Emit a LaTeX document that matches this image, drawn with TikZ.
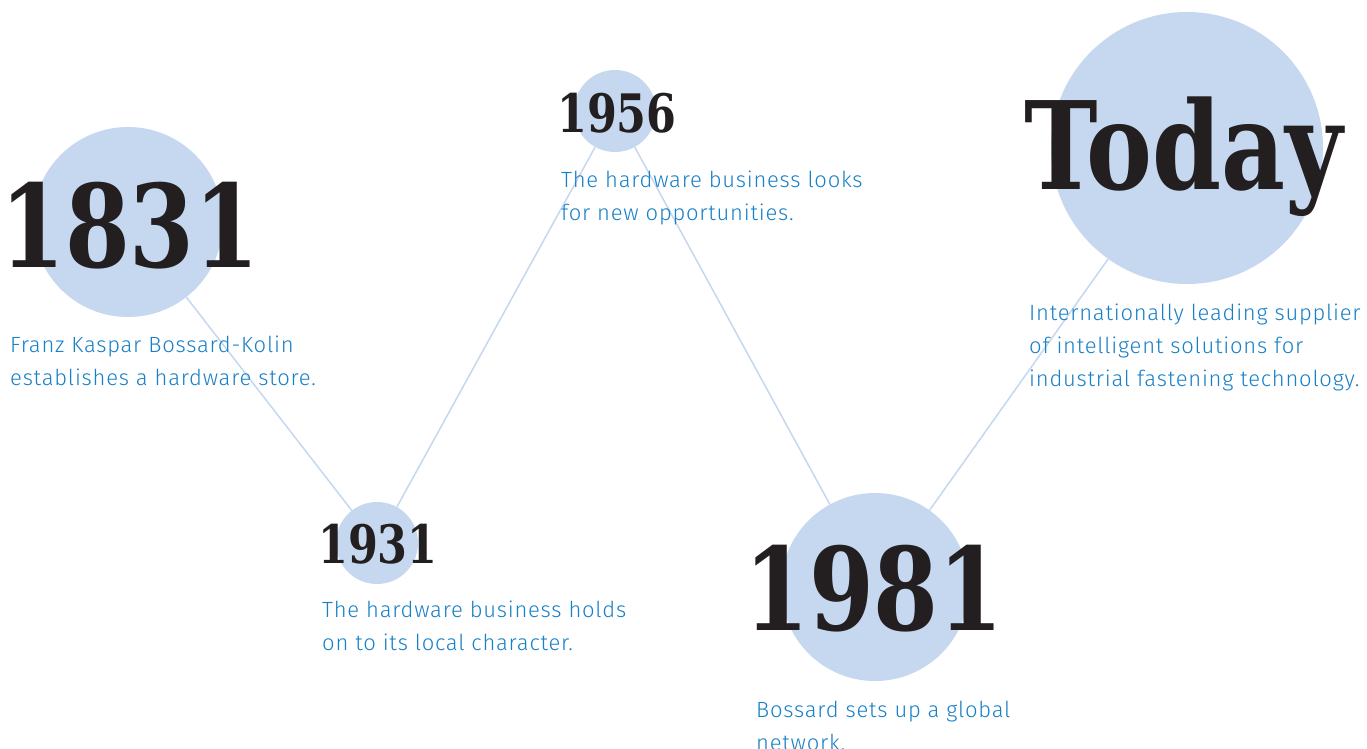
\documentclass[tikz,border=0pt]{standalone}
\usepackage{fontspec}
\newfontfamily\yearfont{DejaVu Serif}[FakeStretch=0.81]
\newfontfamily\descfont{Fira Sans Light}[LetterSpace=3.5]
\definecolor{dotblue}{RGB}{197,216,240}
\definecolor{textblue}{RGB}{24,128,198}
\definecolor{yearblack}{RGB}{35,31,32}
\tikzstyle{dot}=[circle, fill=dotblue, inner sep=0pt]
\tikzstyle{link}=[draw=dotblue, line width=1.5pt]
\tikzstyle{bigyear}=[anchor=base west, inner sep=0pt, text=yearblack, font=\yearfont\bfseries\fontsize{115}{115}\selectfont]
\tikzstyle{smallyear}=[anchor=base west, inner sep=0pt, text=yearblack, font=\yearfont\bfseries\fontsize{53}{53}\selectfont]
\tikzstyle{desc}=[anchor=base west, inner sep=0pt, align=left, text=textblue, font=\descfont\fontsize{22}{33}\selectfont]

\begin{document}
\begin{tikzpicture}[x=1pt, y=-1pt]
    \useasboundingbox[fill=white] (0,0) rectangle (1367,749);
    % circles
    \node[dot, minimum size=190] (c1831) at (128,222) {};
    \node[dot, minimum size=82] (c1931) at (377,543) {};
    \node[dot, minimum size=82] (c1956) at (615,111) {};
    \node[dot, minimum size=188] (c1981) at (875,587) {};
    \node[dot, minimum size=272] (cToday) at (1187,148) {};
    % links
    \draw[link] (c1831) -- (c1931);
    \draw[link] (c1931) -- (c1956);
    \draw[link] (c1956) -- (c1981);
    \draw[link] (c1981) -- (cToday);
    % years
    \node[bigyear] (y1831) at (0,267) {1831};
    \node[smallyear] (y1931) at (318,563) {1931};
    \node[smallyear] (y1956) at (557,132) {1956};
    \node[bigyear] (y1981) at (744,630) {1981};
    \node[bigyear, font=\yearfont\bfseries\fontsize{122}{122}\selectfont] (yToday) at (1024,189) {Today};
    % texts (base = last line)
    \node[desc] (d1831) at (10,385) {Franz Kaspar Bossard-Kolin\\establishes a hardware store.};
    \node[desc] (d1931) at (322,650) {The hardware business holds\\on to its local character.};
    \node[desc] (d1956) at (561,220) {The hardware business looks\\for new opportunities.};
    \node[desc] (d1981) at (756,750) {Bossard sets up a global\\network.};
    \node[desc] (dToday) at (1029,386) {Internationally leading supplier\\of intelligent solutions for\\industrial fastening technology.};
\end{tikzpicture}
\end{document}
